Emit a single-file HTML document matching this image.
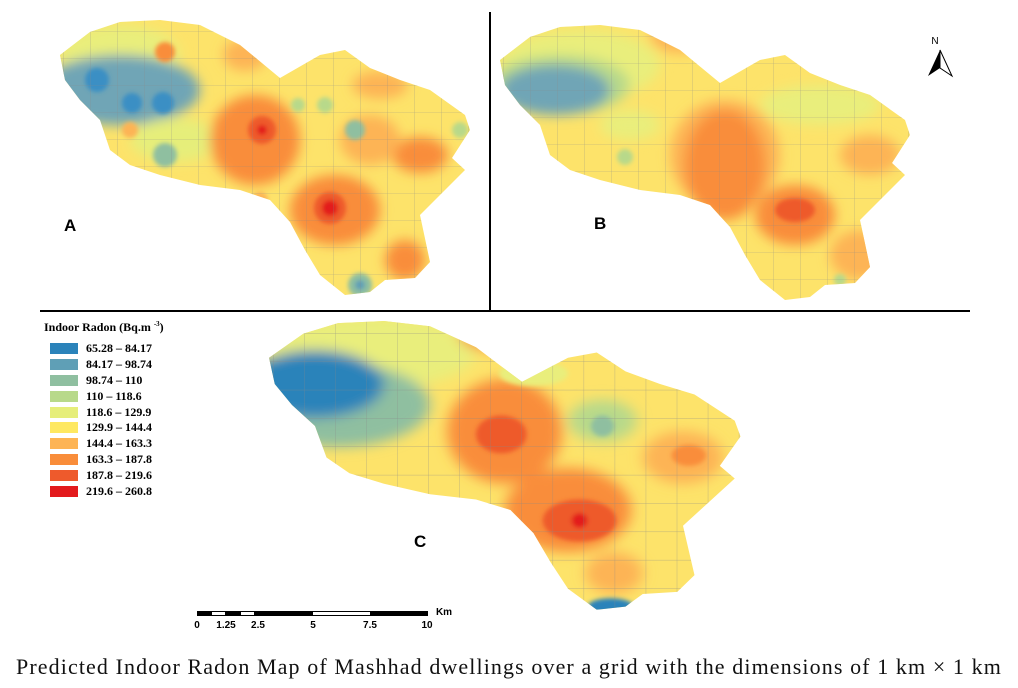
<!DOCTYPE html>
<html><head><style>
body{margin:0;background:#fff;width:1018px;height:688px;overflow:hidden;position:relative;font-family:"Liberation Serif",serif}
.lab{position:absolute;font-family:"Liberation Sans",sans-serif;font-weight:bold;font-size:17px}
.cap{position:absolute;left:0;width:1018px;top:654px;text-align:center;font-size:22px;letter-spacing:1.1px;color:#111;white-space:nowrap}
.leg{position:absolute;left:44px;top:320px;font-family:"Liberation Serif",serif;font-weight:bold;font-size:12px}
.leg div.r{height:15.8px;display:flex;align-items:center}
.leg span.s{display:inline-block;width:28px;height:11px;margin-left:6px;margin-right:8px}
</style></head><body>
<svg width="1018" height="688" style="position:absolute;left:0;top:0">
<defs>
<path id="shape" d="M60,55 L90,32 L120,22 L160,20 L200,25 L240,45 L280,78 L320,55 L345,50 L370,68 L400,80 L430,90 L465,115 L470,130 L452,158 L465,170 L440,195 L420,215 L430,262 L415,278 L385,280 L370,292 L345,295 L320,275 L305,250 L290,222 L270,200 L240,190 L200,185 L160,175 L130,165 L110,150 L100,120 L80,100 L65,80 Z"/>
<clipPath id="clip"><use href="#shape"/></clipPath>
<filter id="bl" x="-50%" y="-50%" width="200%" height="200%"><feGaussianBlur stdDeviation="6"/></filter>
<filter id="bl2" x="-50%" y="-50%" width="200%" height="200%"><feGaussianBlur stdDeviation="2"/></filter>
<pattern id="grid" width="27" height="27" patternUnits="userSpaceOnUse" x="10" y="5"><path d="M27,0 V27 M0,27 H27" fill="none" stroke="#888" stroke-width="0.6" opacity="0.7"/></pattern>
</defs>
<g>
<g clip-path="url(#clip)">
<rect x="40" y="0" width="450" height="310" fill="#fde36a"/>
<g filter="url(#bl)">
<ellipse cx="120" cy="55" rx="60" ry="30" fill="#e9ee7c"/>
<ellipse cx="120" cy="90" rx="80" ry="35" fill="#6fa5b6"/>
<ellipse cx="175" cy="140" rx="45" ry="22" fill="#e6ee7a"/>
<ellipse cx="255" cy="140" rx="45" ry="45" fill="#f98d3a"/>
<ellipse cx="335" cy="210" rx="45" ry="35" fill="#f98d3a"/>
<ellipse cx="420" cy="155" rx="28" ry="18" fill="#f98d3a"/>
<ellipse cx="245" cy="55" rx="22" ry="16" fill="#fdb454"/>
<ellipse cx="370" cy="140" rx="30" ry="25" fill="#fdb454"/>
<ellipse cx="405" cy="260" rx="20" ry="20" fill="#f98d3a"/>
<ellipse cx="380" cy="85" rx="28" ry="14" fill="#fdb454"/>
</g>
<g filter="url(#bl2)">
<circle cx="97" cy="80" r="12" fill="#3a8fc4"/>
<circle cx="132" cy="103" r="10" fill="#3a8fc4"/>
<circle cx="163" cy="103" r="11" fill="#3a8fc4"/>
<circle cx="165" cy="52" r="10" fill="#f98d3a"/>
<circle cx="165" cy="155" r="12" fill="#8fbfa0"/>
<circle cx="130" cy="130" r="8" fill="#fdb454"/>
<circle cx="355" cy="130" r="10" fill="#8fbfa0"/>
<circle cx="325" cy="105" r="8" fill="#b8d98a"/>
<circle cx="298" cy="105" r="7" fill="#b8d98a"/>
<circle cx="460" cy="130" r="8" fill="#b8d98a"/>
<circle cx="262" cy="130" r="14" fill="#ee5a2c"/>
<circle cx="262" cy="130" r="5" fill="#e31a1c"/>
<circle cx="330" cy="208" r="16" fill="#ee5a2c"/>
<circle cx="330" cy="208" r="8" fill="#e31a1c"/>
<circle cx="360" cy="285" r="12" fill="#8fbfa0"/>
<circle cx="360" cy="285" r="5" fill="#5f9fb6"/>
<circle cx="260" cy="200" r="8" fill="#fdb454"/>
</g>
<rect x="40" y="0" width="450" height="310" fill="url(#grid)"/>
</g>
</g>
<g transform="translate(440,5)">
<g clip-path="url(#clip)">
<rect x="40" y="0" width="450" height="310" fill="#fde36a"/>
<g filter="url(#bl)">
<ellipse cx="140" cy="60" rx="80" ry="35" fill="#e9ee7c"/>
<ellipse cx="120" cy="80" rx="70" ry="30" fill="#b8d98a"/>
<ellipse cx="115" cy="85" rx="55" ry="25" fill="#6fa5b6"/>
<ellipse cx="240" cy="30" rx="30" ry="18" fill="#fdb454"/>
<ellipse cx="285" cy="150" rx="55" ry="55" fill="#fdb454"/>
<ellipse cx="285" cy="160" rx="40" ry="55" fill="#f98d3a"/>
<ellipse cx="355" cy="210" rx="40" ry="30" fill="#f98d3a"/>
<ellipse cx="430" cy="150" rx="30" ry="20" fill="#fdb454"/>
<ellipse cx="380" cy="100" rx="60" ry="20" fill="#e9ee7c"/>
<ellipse cx="190" cy="120" rx="30" ry="15" fill="#e9ee7c"/>
<ellipse cx="420" cy="250" rx="30" ry="25" fill="#fdb454"/>
</g>
<g filter="url(#bl2)">
<ellipse cx="355" cy="205" rx="20" ry="12" fill="#ee5a2c"/>
<circle cx="185" cy="152" r="8" fill="#b8d98a"/>
<circle cx="400" cy="275" r="6" fill="#b8d98a"/>
</g>
<rect x="40" y="0" width="450" height="310" fill="url(#grid)"/>
</g>
</g>
<g transform="translate(200,300) scale(1.15,1.05)">
<g clip-path="url(#clip)">
<rect x="40" y="0" width="450" height="320" fill="#fde36a"/>
<g filter="url(#bl)">
<ellipse cx="150" cy="50" rx="90" ry="35" fill="#e9ee7c"/>
<ellipse cx="120" cy="100" rx="80" ry="40" fill="#8fbfa0"/>
<ellipse cx="100" cy="80" rx="60" ry="32" fill="#2b83ba"/>
<ellipse cx="250" cy="30" rx="25" ry="18" fill="#f98d3a"/>
<ellipse cx="265" cy="125" rx="50" ry="50" fill="#f98d3a"/>
<ellipse cx="320" cy="200" rx="55" ry="40" fill="#f98d3a"/>
<ellipse cx="420" cy="150" rx="35" ry="25" fill="#fdb454"/>
<ellipse cx="350" cy="115" rx="30" ry="20" fill="#b8d98a"/>
<ellipse cx="360" cy="260" rx="25" ry="20" fill="#fdb454"/>
</g>
<g filter="url(#bl2)">
<ellipse cx="262" cy="128" rx="22" ry="18" fill="#ee5a2c"/>
<ellipse cx="330" cy="210" rx="32" ry="20" fill="#ee5a2c"/>
<circle cx="330" cy="210" r="7" fill="#e31a1c"/>
<ellipse cx="425" cy="148" rx="15" ry="10" fill="#f98d3a"/>
<ellipse cx="357" cy="292" rx="20" ry="8" fill="#2b83ba"/>
<circle cx="350" cy="120" r="10" fill="#8fbfa0"/>
<ellipse cx="290" cy="70" rx="30" ry="12" fill="#e9ee7c"/>
</g>
<rect x="40" y="0" width="450" height="320" fill="url(#grid)"/>
</g>
</g>
<line x1="490" y1="12" x2="490" y2="311" stroke="#000" stroke-width="2"/>
<line x1="40" y1="311" x2="970" y2="311" stroke="#000" stroke-width="2"/>
<text x="935" y="44" font-family="Liberation Sans" font-size="10" text-anchor="middle">N</text>
<path d="M940,50 L928,76 L940,68 Z" fill="#000"/>
<path d="M940,50 L952,76 L940,68 Z" fill="#fff" stroke="#000" stroke-width="1"/>
<rect x="197" y="611" width="231" height="5" fill="#000"/>
<rect x="212" y="612" width="13" height="3" fill="#fff"/>
<rect x="241" y="612" width="13" height="3" fill="#fff"/>
<rect x="313" y="612" width="57" height="3" fill="#fff"/>
<g font-family="Liberation Sans" font-size="10" font-weight="bold" text-anchor="middle">
<text x="197" y="628">0</text><text x="226" y="628">1.25</text><text x="258" y="628">2.5</text>
<text x="313" y="628">5</text><text x="370" y="628">7.5</text><text x="427" y="628">10</text>
<text x="444" y="615">Km</text>
</g>
</svg>
<div class="lab" style="left:64px;top:216px">A</div>
<div class="lab" style="left:594px;top:214px">B</div>
<div class="lab" style="left:414px;top:532px">C</div>
<div class="leg">
<div style="margin-bottom:6px">Indoor Radon (Bq.m <sup style="font-size:7px">-3</sup>)</div>
<div class="r"><span class="s" style="background:#2b83ba"></span>65.28 – 84.17</div>
<div class="r"><span class="s" style="background:#5f9fb6"></span>84.17 – 98.74</div>
<div class="r"><span class="s" style="background:#8fbfa0"></span>98.74 – 110</div>
<div class="r"><span class="s" style="background:#b8d98a"></span>110 – 118.6</div>
<div class="r"><span class="s" style="background:#e6ee7a"></span>118.6 – 129.9</div>
<div class="r"><span class="s" style="background:#fee861"></span>129.9 – 144.4</div>
<div class="r"><span class="s" style="background:#fdb454"></span>144.4 – 163.3</div>
<div class="r"><span class="s" style="background:#f98d3a"></span>163.3 – 187.8</div>
<div class="r"><span class="s" style="background:#ee5a2c"></span>187.8 – 219.6</div>
<div class="r"><span class="s" style="background:#e31a1c"></span>219.6 – 260.8</div>
</div>
<div class="cap">Predicted Indoor Radon Map of Mashhad dwellings over a grid with the dimensions of 1 km × 1 km</div>
</body></html>
